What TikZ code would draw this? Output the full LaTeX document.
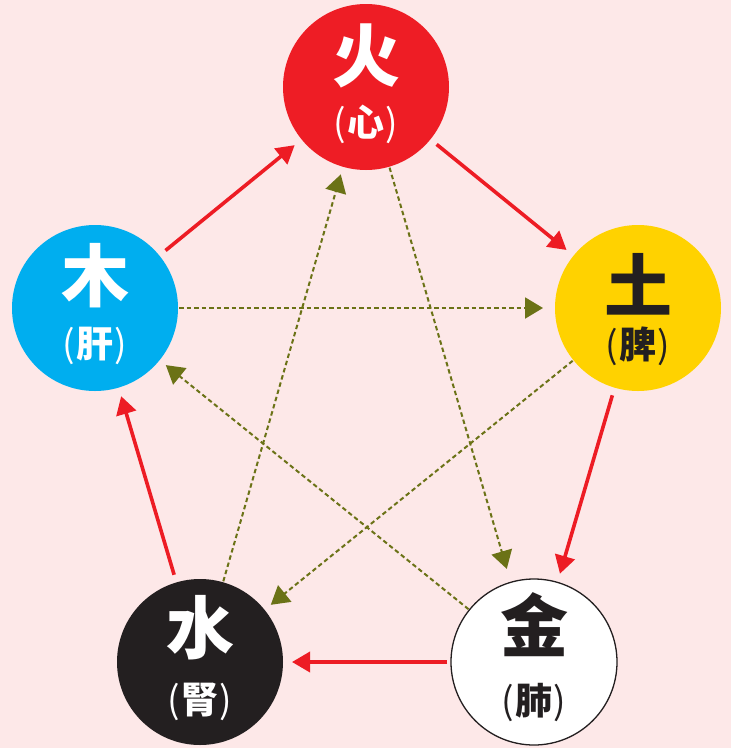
\documentclass[tikz,border=0pt]{standalone}
\usepackage{fontspec}
\newfontfamily\cjk{Noto Sans CJK SC}
\usetikzlibrary{arrows.meta}
\definecolor{bgpink}{RGB}{253,232,232}
\definecolor{firered}{RGB}{238,29,37}
\definecolor{woodblue}{RGB}{0,174,239}
\definecolor{earthyellow}{RGB}{255,210,0}
\definecolor{waterblack}{RGB}{35,31,32}
\definecolor{olive}{RGB}{107,114,22}
\definecolor{arrowred}{RGB}{237,28,36}
\newcommand{\paren}[1]{{\mdseries(}\hspace{1pt}#1\hspace{1pt}{\mdseries)}}
\tikzset{
  elem/.style={circle, minimum size=166pt, inner sep=0pt, outer sep=0pt},
  bigchar/.style={font=\cjk\bfseries\fontsize{68}{68}\selectfont, inner sep=0pt},
  smallchar/.style={font=\cjk\bfseries\fontsize{37}{37}\selectfont, inner sep=0pt},
  gen/.style={draw=arrowred, line width=3.6pt, -{Triangle[length=18pt,width=20pt]}, shorten <=8pt, shorten >=9pt},
  ctrl/.style={draw=olive, line width=2pt, dash pattern=on 4.5pt off 3pt, -{Triangle[length=18pt,width=21pt]}, shorten <=1pt, shorten >=8pt},
}
\begin{document}
\begin{tikzpicture}[x=1pt,y=-1pt]
\fill[bgpink] (0,0) rectangle (731,748);
\useasboundingbox (0,0) rectangle (731,748);
\node[elem, fill=firered] (fire) at (366,87) {};
\node[elem, fill=woodblue] (wood) at (95,308) {};
\node[elem, fill=earthyellow] (earth) at (638,308) {};
\node[elem, fill=waterblack] (water) at (200,662) {};
\node[elem, fill=white, draw=waterblack, line width=1.3pt] (metal) at (534,662) {};
% texts
\node[bigchar, text=white] (firet) at (366,56) {火};
\node[smallchar, text=white] (fires) at (366,124) {\paren{心}};
\node[bigchar, text=white] (woodt) at (95,276) {木};
\node[smallchar, text=white] (woods) at (95,346) {\paren{肝}};
\node[bigchar, text=waterblack] (eartht) at (638,284) {土};
\node[smallchar, text=waterblack] (earths) at (638,346) {\paren{脾}};
\node[bigchar, text=white] (watert) at (200,628) {水};
\node[smallchar, text=white] (waters) at (200,702) {\paren{腎}};
\node[bigchar, text=waterblack] (metalt) at (534,625) {金};
\node[smallchar, text=waterblack] (metals) at (534,703) {\paren{肺}};
% generating cycle
\draw[gen] (wood) -- (fire);
\draw[gen] (fire) -- (earth);
\draw[gen] (earth) -- (metal);
\draw[gen, shorten <=4pt] (metal) -- (water);
\draw[gen] (water) -- (wood);
% controlling cycle
\draw[ctrl, shorten >=12pt] (wood) -- (earth);
\draw[ctrl] (earth) -- (water);
\draw[ctrl] (water) -- (fire);
\draw[ctrl, shorten >=14pt] (fire) -- (metal);
\draw[ctrl] (metal) -- (wood);
\end{tikzpicture}
\end{document}
